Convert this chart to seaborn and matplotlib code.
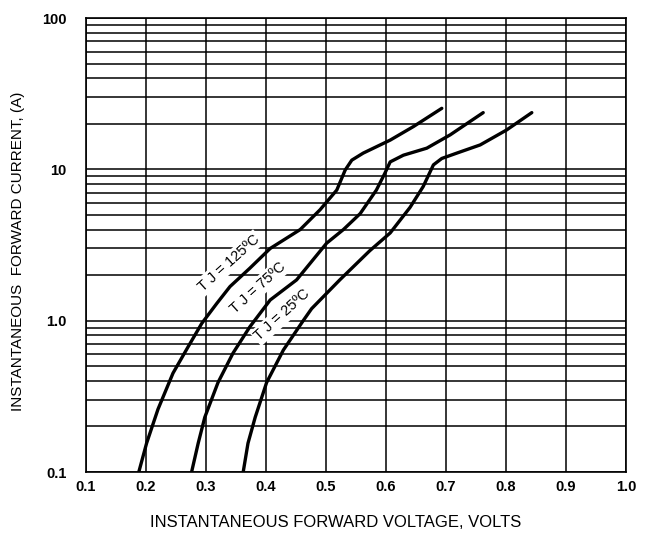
import numpy as np
import pandas as pd
import seaborn as sns
import matplotlib.pyplot as plt
from matplotlib.ticker import FixedLocator, LogLocator, NullFormatter

# forward voltage (V) / current (A)
v_125 = [0.188, 0.201, 0.220, 0.245, 0.270, 0.293, 0.318, 0.340, 0.373, 0.407,
         0.457, 0.490, 0.518, 0.532, 0.543, 0.562, 0.607, 0.646, 0.693]
i_125 = [0.10, 0.155, 0.26, 0.45, 0.67, 0.96, 1.30, 1.68, 2.22, 3.0,
         4.0, 5.4, 7.3, 9.9, 11.5, 12.8, 15.6, 19.2, 25.3]

v_75 = [0.276, 0.287, 0.298, 0.320, 0.345, 0.373, 0.407, 0.451, 0.501, 0.529,
        0.557, 0.584, 0.598, 0.607, 0.629, 0.668, 0.707, 0.762]
i_75 = [0.10, 0.155, 0.23, 0.39, 0.61, 0.91, 1.37, 1.86, 3.25, 4.0,
        5.1, 7.3, 9.4, 11.2, 12.4, 13.8, 16.9, 23.7]

v_25 = [0.362, 0.370, 0.382, 0.401, 0.429, 0.462, 0.476, 0.523, 0.573, 0.607,
        0.640, 0.662, 0.679, 0.693, 0.718, 0.757, 0.801, 0.843]
i_25 = [0.10, 0.155, 0.23, 0.39, 0.64, 1.0, 1.2, 1.86, 2.9, 3.8,
        5.6, 7.7, 10.7, 11.8, 12.8, 14.5, 18.2, 23.7]

curve_labels = ["T J = 125ºC", "T J = 75ºC", "T J = 25ºC"]
label_v = [0.338, 0.386, 0.4275]
label_i = [2.40, 1.64, 1.09]

x_ticks = [0.1, 0.2, 0.3, 0.4, 0.5, 0.6, 0.7, 0.8, 0.9, 1.0]
x_ticklabels = ["0.1", "0.2", "0.3", "0.4", "0.5", "0.6", "0.7", "0.8", "0.9", "1.0"]
y_ticks = [0.1, 1.0, 10, 100]
y_ticklabels = ["0.1", "1.0", "10", "100"]

sns.set_theme(style="white", rc={"text.color": "black", "axes.labelcolor": "black",
                                 "xtick.color": "black", "ytick.color": "black"})
plt.rcParams['font.family'] = ['Liberation Sans', 'DejaVu Sans']

data = pd.concat([
    pd.DataFrame({"v": v_125, "i": i_125, "tj": "125"}),
    pd.DataFrame({"v": v_75, "i": i_75, "tj": "75"}),
    pd.DataFrame({"v": v_25, "i": i_25, "tj": "25"}),
])

fig = plt.figure(figsize=(6.54, 5.34), dpi=100)
ax = fig.add_axes([86 / 654, 1 - 472 / 534, 540 / 654, 454 / 534])

sns.lineplot(data=data, x="v", y="i", units="tj", estimator=None, sort=False,
             color="black", linewidth=2.4, ax=ax, zorder=3)

ax.set_yscale("log")
ax.set_xlim(0.1, 1.0)
ax.set_ylim(0.1, 100)

ax.xaxis.set_major_locator(FixedLocator(x_ticks))
ax.set_xticklabels(x_ticklabels, fontweight="bold", fontsize=10.5)
ax.yaxis.set_major_locator(FixedLocator(y_ticks))
ax.set_yticklabels(y_ticklabels, fontweight="bold", fontsize=10.5)
ax.yaxis.set_minor_locator(LogLocator(base=10, subs=np.arange(2, 10)))
ax.yaxis.set_minor_formatter(NullFormatter())
ax.tick_params(axis="both", which="both", length=0)
ax.tick_params(axis="y", pad=14)
ax.tick_params(axis="x", pad=6)

ax.set_axisbelow(True)
ax.grid(True, which="major", axis="x", color="black", linewidth=1.1)
ax.grid(True, which="both", axis="y", color="black", linewidth=1.1)
for s in ax.spines.values():
    s.set_color("black")
    s.set_linewidth(1.2)

ax.set_xlabel("INSTANTANEOUS FORWARD VOLTAGE, VOLTS", fontsize=12)
ax.set_ylabel("INSTANTANEOUS  FORWARD CURRENT, (A)", fontsize=11)
ax.xaxis.set_label_coords(0.463, -0.095)
ax.yaxis.set_label_coords(-0.113, 0.485)

for txt, v, i in zip(curve_labels, label_v, label_i):
    ax.text(v, i, txt, rotation=42, ha="center", va="center",
            rotation_mode="anchor", fontsize=10.5, zorder=2,
            bbox=dict(facecolor="white", edgecolor="none", pad=1.5))

fig.savefig("out.png", dpi=100)
